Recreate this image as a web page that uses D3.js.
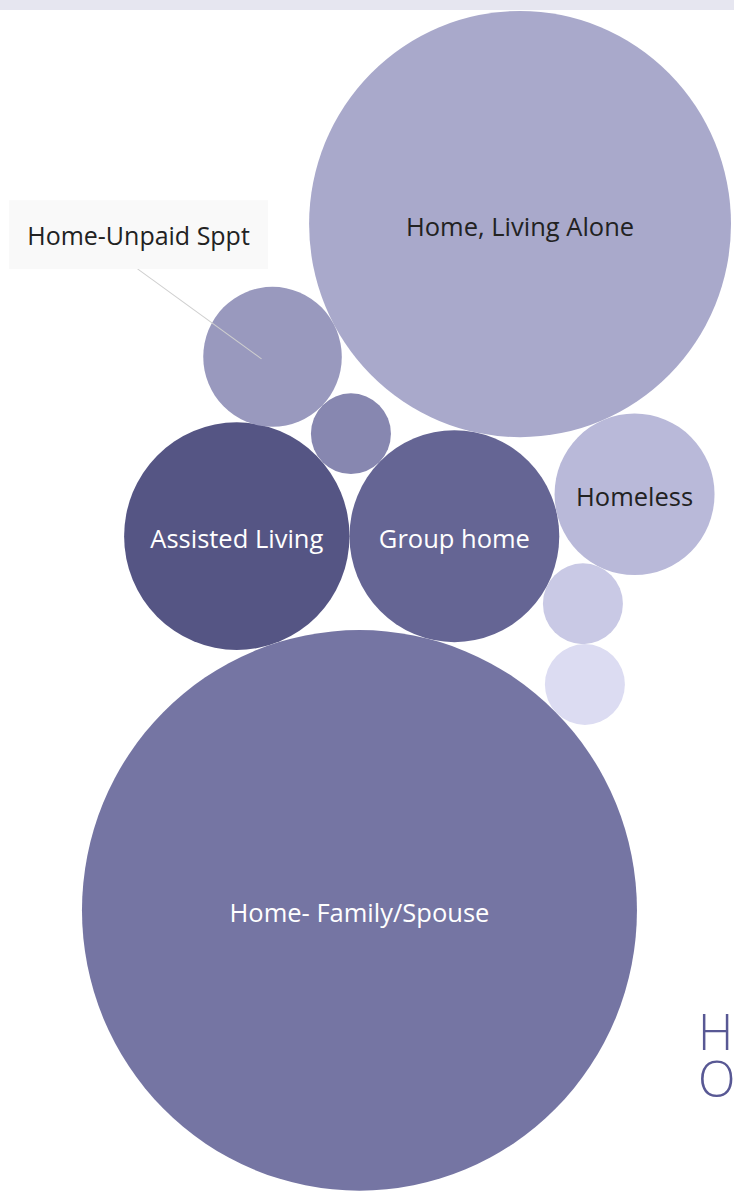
<!DOCTYPE html>
<html>
<head>
<meta charset="utf-8">
<script src="https://cdn.jsdelivr.net/npm/d3@7"></script>
<style>
  html, body { margin: 0; padding: 0; background: #ffffff; }
  svg { display: block; }
</style>
</head>
<body>
<div id="chart"></div>
<script>
// Living situation categories and their counts (bubble area ∝ count)
const categories = [
  "Group home",
  "Assisted Living",
  "Home- Family/Spouse",
  "Other 1",
  "Home, Living Alone",
  "Home-Unpaid Sppt",
  "Homeless",
  "Other 2",
  "Other 3"
];
const counts = [110, 127, 770, 16, 445, 48, 64, 16, 16];
const labelShown = [true, true, true, false, true, true, true, false, false];
const bubbleColors = [
  "#656594", "#555584", "#7575a3", "#8787b0", "#a9a9cb",
  "#9999be", "#b9b9d9", "#c9c9e5", "#dcdcf2"
];
const labelColors = [
  "#ffffff", "#ffffff", "#ffffff", "#222222", "#222222",
  "#222222", "#222222", "#222222", "#222222"
];
const titleLines = ["H", "O"];

const W = 734, H = 1192;
const stretchY = 1.0102;   // view is slightly taller than wide in aspect

const svg = d3.select("#chart").append("svg")
  .attr("width", W).attr("height", H)
  .style("font-family", "'Open Sans', 'Noto Sans', sans-serif");

// header strip
svg.append("rect").attr("x", 0).attr("y", 0).attr("width", W).attr("height", 10)
  .attr("fill", "#e6e6f0");

const rScale = d3.scaleSqrt().domain([0, 100]).range([0, 100]);

const nodes = categories.map((c, i) => ({
  name: c, value: counts[i], r: rScale(counts[i]),
  color: bubbleColors[i], textColor: labelColors[i], show: labelShown[i]
}));
const byName = Object.fromEntries(nodes.map(n => [n.name, n]));

// Packing: each bubble is placed touching one or two already-placed bubbles
function touchTwo(c, a, b, side) {
  const dx = b.x - a.x, dy = b.y - a.y;
  const d = Math.hypot(dx, dy);
  const ra = a.r + c.r, rb = b.r + c.r;
  const along = (d * d + ra * ra - rb * rb) / (2 * d);
  const h = Math.sqrt(Math.max(0, ra * ra - along * along));
  const ux = dx / d, uy = dy / d;
  c.x = a.x + along * ux + side * h * (-uy);
  c.y = a.y + along * uy + side * h * ux;
}
function touchOne(c, a, angleDeg) {
  const t = angleDeg * Math.PI / 180, d = a.r + c.r;
  c.x = a.x + d * Math.cos(t);
  c.y = a.y + d * Math.sin(t);
}

const G = byName["Group home"];
G.x = 0; G.y = 0;
touchOne(byName["Assisted Living"], G, 180);
touchTwo(byName["Home- Family/Spouse"], byName["Assisted Living"], G, 1);
touchTwo(byName["Other 1"], byName["Assisted Living"], G, -1);
touchOne(byName["Home, Living Alone"], G, -78);
touchTwo(byName["Home-Unpaid Sppt"], byName["Other 1"], byName["Home, Living Alone"], -1);
touchTwo(byName["Homeless"], byName["Home, Living Alone"], G, -1);
touchTwo(byName["Other 2"], byName["Homeless"], G, -1);
touchTwo(byName["Other 3"], byName["Other 2"], byName["Home- Family/Spouse"], -1);

// anchor the pack to the top-right of the view
const maxX = d3.max(nodes, n => n.x + n.r);
const minY = d3.min(nodes, n => n.y - n.r);
const offX = (W - 3) - maxX, offY = 11 / stretchY - minY;
nodes.forEach(n => { n.x += offX; n.y += offY; });

const g = svg.append("g").attr("transform", `scale(1,${stretchY})`);
g.selectAll("circle").data(nodes).join("circle")
  .attr("cx", d => d.x).attr("cy", d => d.y).attr("r", d => d.r)
  .attr("fill", d => d.color);

// inline labels
g.selectAll("text.lbl").data(nodes.filter(n => n.show && n.name !== "Home-Unpaid Sppt"))
  .join("text").attr("class", "lbl")
  .attr("x", d => d.x).attr("y", d => d.y)
  .attr("dy", "0.47em")
  .attr("text-anchor", "middle")
  .attr("font-size", 25.5)
  .attr("fill", d => d.textColor)
  .text(d => d.name);

// annotation for the small bubble
const U = byName["Home-Unpaid Sppt"];
const box = { cx: U.x - 134, cy: U.y - 121, w: 259, h: 68 };
const tipX = U.x - 11, tipY = U.y + 2;
g.append("line")
  .attr("x1", box.cx - 1).attr("y1", box.cy + box.h / 2)
  .attr("x2", tipX).attr("y2", tipY)
  .attr("stroke", "#cfcfcf").attr("stroke-width", 1);
g.append("rect")
  .attr("x", box.cx - box.w / 2).attr("y", box.cy - box.h / 2)
  .attr("width", box.w).attr("height", box.h)
  .attr("fill", "#f9f9f9");
g.append("text")
  .attr("x", box.cx).attr("y", box.cy).attr("dy", "0.4em")
  .attr("text-anchor", "middle").attr("font-size", 25).attr("fill", "#222222")
  .text(U.name);

// title, running off the right edge
svg.append("text").attr("class", "title")
  .attr("x", 698).attr("y", 1050)
  .attr("font-size", 49).attr("font-weight", 300)
  .attr("fill", "#585894")
  .selectAll("tspan").data(titleLines).join("tspan")
  .attr("x", 698).attr("dy", (d, i) => i === 0 ? 0 : 47)
  .text(d => d);
</script>
</body>
</html>
